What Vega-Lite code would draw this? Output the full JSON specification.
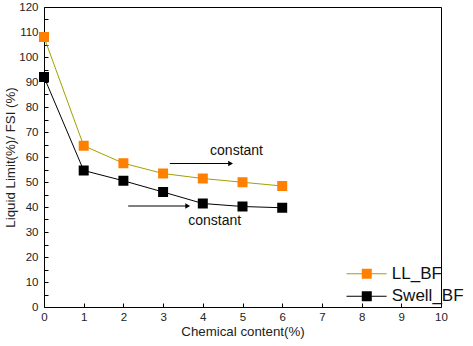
{
  "$schema": "https://vega.github.io/schema/vega-lite/v6.json",
  "width": 397,
  "height": 300,
  "autosize": {"type": "none"},
  "padding": {"left": 44, "top": 7, "right": 32, "bottom": 39},
  "background": "white",
  "config": {
    "font": "Liberation Sans",
    "view": {"stroke": "black", "strokeWidth": 1}
  },
  "datasets": {
    "series": [
      {"x": 0, "y": 108, "s": "LL_BF"},
      {"x": 1, "y": 64.5, "s": "LL_BF"},
      {"x": 2, "y": 57.5, "s": "LL_BF"},
      {"x": 3, "y": 53.4, "s": "LL_BF"},
      {"x": 4, "y": 51.4, "s": "LL_BF"},
      {"x": 5, "y": 49.9, "s": "LL_BF"},
      {"x": 6, "y": 48.4, "s": "LL_BF"},
      {"x": 0, "y": 92, "s": "Swell_BF"},
      {"x": 1, "y": 54.6, "s": "Swell_BF"},
      {"x": 2, "y": 50.5, "s": "Swell_BF"},
      {"x": 3, "y": 46, "s": "Swell_BF"},
      {"x": 4, "y": 41.4, "s": "Swell_BF"},
      {"x": 5, "y": 40.2, "s": "Swell_BF"},
      {"x": 6, "y": 39.7, "s": "Swell_BF"}
    ],
    "arrows": [
      {"x": 3.17, "x2": 4.7, "y": 57.4},
      {"x": 2.12, "x2": 3.62, "y": 40.4}
    ],
    "heads": [
      {"x": 4.7, "y": 57.4},
      {"x": 3.62, "y": 40.4}
    ],
    "notes": [
      {"x": 4.85, "y": 62.4, "t": "constant"},
      {"x": 4.3, "y": 34.4, "t": "constant"}
    ],
    "legendLines": [
      {"s": "LL_BF", "x": 7.62, "x2": 8.63, "y": 13.3},
      {"s": "Swell_BF", "x": 7.62, "x2": 8.63, "y": 4.3}
    ],
    "legendMarks": [
      {"s": "LL_BF", "x": 8.13, "y": 13.3},
      {"s": "Swell_BF", "x": 8.13, "y": 4.3}
    ],
    "legendText": [
      {"s": "LL_BF", "x": 8.76, "y": 13.3},
      {"s": "Swell_BF", "x": 8.76, "y": 4.3}
    ]
  },
  "encoding": {
    "x": {
      "field": "x", "type": "quantitative",
      "scale": {"domain": [0, 10], "nice": false, "zero": false},
      "axis": {
        "title": "Chemical content(%)",
        "values": [0,0.5,1,1.5,2,2.5,3,3.5,4,4.5,5,5.5,6,6.5,7,7.5,8,8.5,9,9.5,10],
        "format": "d",
        "labelExpr": "datum.value % 1 === 0 ? datum.label : ''",
        "labelOverlap": false,
        "grid": false,
        "domain": false,
        "offset": -4,
        "ticks": true,
        "tickColor": "black",
        "tickSize": 4,
        "tickWidth": 1,
        "labelPadding": 4,
        "labelFlush": false,
        "labelFontSize": 11.5,
        "labelColor": "#222",
        "titleFontSize": 13.3,
        "titleFontWeight": "normal",
        "titleColor": "#222",
        "titlePadding": 2
      }
    },
    "y": {
      "field": "y", "type": "quantitative",
      "scale": {"domain": [0, 120], "nice": false},
      "axis": {
        "title": "Liquid Limit(%)/ FSI (%)",
        "values": [0,5,10,15,20,25,30,35,40,45,50,55,60,65,70,75,80,85,90,95,100,105,110,115,120],
        "labelExpr": "datum.value % 10 === 0 ? datum.label : ''",
        "labelOverlap": false,
        "grid": false,
        "domain": false,
        "offset": -4,
        "ticks": true,
        "tickColor": "black",
        "tickSize": 4,
        "tickWidth": 1,
        "labelPadding": 6,
        "labelFlush": false,
        "labelFontSize": 11.5,
        "labelColor": "#222",
        "titleFontSize": 13.3,
        "titleFontWeight": "normal",
        "titleColor": "#222",
        "titlePadding": 1
      }
    }
  },
  "layer": [
    {
      "data": {"name": "series"},
      "mark": {"type": "line", "strokeWidth": 1},
      "encoding": {
        "detail": {"field": "s"},
        "stroke": {
          "field": "s", "type": "nominal",
          "scale": {"domain": ["LL_BF", "Swell_BF"], "range": ["#A3A000", "#000000"]},
          "legend": null
        }
      }
    },
    {
      "data": {"name": "series"},
      "mark": {"type": "point", "shape": "square", "filled": true, "size": 100, "opacity": 1},
      "encoding": {
        "fill": {
          "field": "s", "type": "nominal",
          "scale": {"domain": ["LL_BF", "Swell_BF"], "range": ["#FF8000", "#000000"]},
          "legend": null
        }
      }
    },
    {
      "data": {"name": "arrows"},
      "mark": {"type": "rule", "color": "black", "strokeWidth": 1},
      "encoding": {"x2": {"field": "x2"}}
    },
    {
      "data": {"name": "heads"},
      "mark": {"type": "point", "shape": "triangle-right", "filled": true, "color": "black", "size": 30, "opacity": 1},
      "encoding": {}
    },
    {
      "data": {"name": "notes"},
      "mark": {"type": "text", "fontSize": 14, "color": "#111", "font": "Liberation Sans"},
      "encoding": {"text": {"field": "t"}}
    },
    {
      "data": {"name": "legendLines"},
      "mark": {"type": "rule", "strokeWidth": 1},
      "encoding": {
        "x2": {"field": "x2"},
        "stroke": {"field": "s", "type": "nominal", "legend": null}
      }
    },
    {
      "data": {"name": "legendMarks"},
      "mark": {"type": "point", "shape": "square", "filled": true, "size": 100, "opacity": 1},
      "encoding": {
        "fill": {"field": "s", "type": "nominal", "legend": null}
      }
    },
    {
      "data": {"name": "legendText"},
      "mark": {"type": "text", "align": "left", "baseline": "middle", "fontSize": 17, "color": "#111", "font": "Liberation Sans"},
      "encoding": {"text": {"field": "s"}}
    }
  ]
}
